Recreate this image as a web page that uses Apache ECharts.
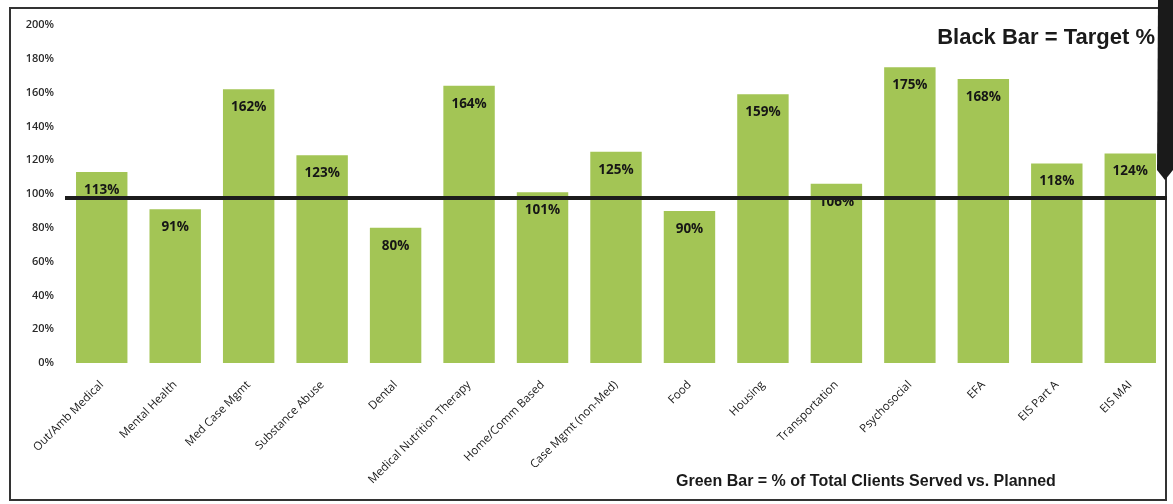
<!DOCTYPE html>
<html>
<head>
<meta charset="utf-8">
<script src="https://cdn.jsdelivr.net/npm/echarts@6/dist/echarts.min.js"></script>
<style>
html,body{margin:0;padding:0;background:#fff;}
#c{width:1173px;height:504px;}
</style>
</head>
<body>
<div id="c"></div>
<script>
const categories = ['Out/Amb Medical','Mental Health','Med Case Mgmt','Substance Abuse','Dental','Medical Nutrition Therapy','Home/Comm Based','Case Mgmt (non-Med)','Food','Housing','Transportation','Psychosocial','EFA','EIS Part A','EIS MAI'];
const servedPct = [113, 91, 162, 123, 80, 164, 101, 125, 90, 159, 106, 175, 168, 118, 124];
const targetPct = 97.5;
const yTicks = [0, 20, 40, 60, 80, 100, 120, 140, 160, 180, 200];

const chart = echarts.init(document.getElementById('c'));
chart.setOption({
  backgroundColor: '#fff',
  animation: false,
  grid: { left: 65, right: 6, top: 25, bottom: 141 },
  xAxis: {
    type: 'category',
    data: categories,
    axisLine: { show: false },
    axisTick: { show: false },
    axisLabel: {
      rotate: 45, interval: 0, margin: 20,
      fontFamily: 'Open Sans', fontSize: 11.5, color: '#1a1a1a'
    }
  },
  yAxis: {
    type: 'value',
    min: yTicks[0], max: yTicks[yTicks.length - 1], interval: 20,
    splitLine: { show: false },
    axisLine: { show: false },
    axisTick: { show: false },
    axisLabel: {
      formatter: '{value}%', margin: 11,
      fontFamily: 'Open Sans', fontSize: 11, fontWeight: 600, color: '#2a2a2a'
    }
  },
  series: [{
    type: 'bar',
    data: servedPct,
    barWidth: '70%',
    itemStyle: { color: '#a3c555' },
    label: {
      show: true, position: 'insideTop', distance: 11,
      formatter: '{c}%',
      fontFamily: 'Open Sans', fontWeight: 'bold', fontSize: 13.5, color: '#161616'
    },
    markLine: {
      symbol: 'none', silent: true,
      label: { show: false },
      lineStyle: { color: '#1c1c1c', width: 4, type: 'solid' },
      data: [{ yAxis: targetPct }]
    }
  }],
  graphic: [
    { type: 'rect', shape: { x: 10, y: 8, width: 1156, height: 492 },
      style: { fill: 'none', stroke: '#333', lineWidth: 2 } },
    { type: 'polygon', shape: { points: [[1158, 0], [1173, 0], [1173, 170], [1165, 180], [1157, 170]] },
      style: { fill: '#1a1a1a' } },
    { type: 'text', right: 18, top: 27,
      style: { text: 'Black Bar = Target %', fontFamily: 'Liberation Sans', fontWeight: 900,
               fontSize: 22, fill: '#1a1a1a' } },
    { type: 'text', left: 676, top: 474,
      style: { text: 'Green Bar = % of Total Clients Served vs. Planned', fontFamily: 'Liberation Sans',
               fontWeight: 900, fontSize: 16, fill: '#1a1a1a' } }
  ]
});
</script>
</body>
</html>
